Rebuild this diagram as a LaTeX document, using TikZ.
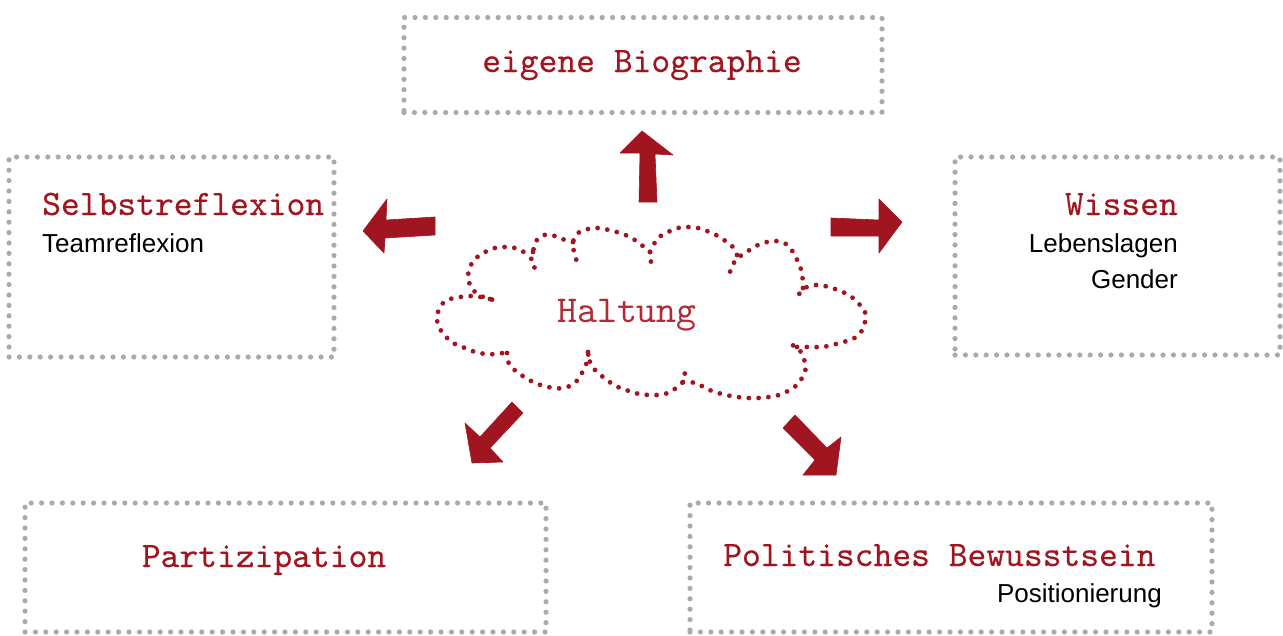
\documentclass[tikz,border=0pt]{standalone}
\usepackage{fontspec}
\setsansfont{Liberation Sans}
\newfontfamily\tw{lmmono10-regular.otf}[FakeBold=0.3]
\newfontfamily\twlight{lmmono10-regular.otf}
\definecolor{tred}{RGB}{160,21,31}
\definecolor{hred}{RGB}{178,42,52}
\definecolor{dotgray}{RGB}{170,170,170}
\tikzset{
  box/.style={draw=dotgray, line width=5.2pt, line cap=round, dash pattern=on 0pt off 10.4pt, inner sep=0pt},
  title/.style={text=tred, inner sep=0pt, font=\tw\fontsize{35.8}{40}\selectfont},
  sub/.style={text=black, inner sep=0pt, font=\sffamily\fontsize{26}{30}\selectfont},
  cloudline/.style={draw=tred, line width=4.8pt, line cap=round, dash pattern=on 0pt off 9.8pt},
  barrow/.style={fill=tred, draw=tred, line width=0.6pt, line join=round},
}
\begin{document}
\begin{tikzpicture}[x=1pt,y=-1pt]
\useasboundingbox (0,0) rectangle (1283,635);
% boxes
\node[box, minimum width=478pt, minimum height=95pt] (bio) at (643,65) {};
\node[box, minimum width=325pt, minimum height=200pt] (selbst) at (171.5,257) {};
\node[box, minimum width=325pt, minimum height=198pt] (wissen) at (1117.5,256) {};
\node[box, minimum width=521pt, minimum height=129pt] (partiz) at (285.5,567.5) {};
\node[box, minimum width=522pt, minimum height=129pt] (polit) at (951,567.5) {};
% texts
\node[title, anchor=base] (t-bio) at (642,72) {eigene Biographie};
\node[title, anchor=base west] (t-selbst) at (42,215) {Selbstreflexion};
\node[sub, anchor=base west] (s-team) at (42,252) {Teamreflexion};
\node[title, anchor=base east] (t-wissen) at (1178,215) {Wissen};
\node[sub, anchor=base east] (s-leben) at (1178,252) {Lebenslagen};
\node[sub, anchor=base east] (s-gender) at (1178,288) {Gender};
\node[title, anchor=base] (t-partiz) at (264,567) {Partizipation};
\node[title, anchor=base west] (t-polit) at (723,566) {Politisches Bewusstsein};
\node[sub, anchor=base east] (s-pos) at (1162,602) {Positionierung};
\node[text=hred, inner sep=0pt, anchor=base, font=\twlight\fontsize{38}{40}\selectfont] (halt) at (627,322) {Haltung};
% cloud
\draw[cloudline] plot[smooth, tension=0.6] coordinates {(490,299) (480,297) (470,296) (460,297) (450,299) (442,304) (437,316) (439,327) (446,337) (455,344) (465,348) (475,352) (486,354) (497,354) (507,352)};
\draw[cloudline] plot[smooth, tension=0.6] coordinates {(507,353) (509,364) (517,372) (526,378) (535,383) (544,386) (554,388) (564,388) (573,384) (580,377) (584,368) (588,360) (588,351)};
\draw[cloudline] plot[smooth, tension=0.6] coordinates {(588,352) (590,362) (595,370) (603,377) (611,383) (620,388) (629,391) (639,394) (649,395) (658,395) (668,393) (676,388) (683,382) (685,375) (683,366)};
\draw[cloudline] plot[smooth, tension=0.6] coordinates {(683,382) (696,383) (705,388) (715,392) (726,395) (737,397) (748,398) (758,398) (769,397) (779,395) (788,391) (797,385) (803,376) (806,367) (803,357) (798,348) (789,344)};
\draw[cloudline] plot[smooth, tension=0.6] coordinates {(797,347) (810,347) (822,347) (832,345) (843,342) (853,339) (861,332) (865,322) (865,312) (860,305) (853,298) (845,293) (835,289) (825,286) (816,285) (805,288) (796,298)};
\draw[cloudline] plot[smooth, tension=0.6] coordinates {(803,288) (802,273) (798,262) (793,252) (786,244) (776,241) (767,242) (758,245) (748,251) (739,257) (733,264) (730,272)};
\draw[cloudline] plot[smooth, tension=0.6] coordinates {(737,255) (732,246) (724,240) (716,235) (707,231) (698,228) (688,227) (678,228) (668,232) (659,237) (654,244) (650,252) (651,262)};
\draw[cloudline] plot[smooth, tension=0.6] coordinates {(650,252) (639,243) (630,237) (620,233) (609,230) (598,228) (588,229) (578,233) (573,242) (574,252) (577,262)};
\draw[cloudline] plot[smooth, tension=0.6] coordinates {(573,242) (565,240) (555,236) (544,235) (536,241) (533,252) (531,262) (535,268)};
\draw[cloudline] plot[smooth, tension=0.6] coordinates {(533,252) (524,252) (515,248) (506,247) (495,248) (485,252) (476,258) (470,267) (468,277) (471,287) (479,295) (490,299) (497,301)};
% block arrows
\filldraw[barrow] (639,202) -- (640,153) -- (620,153) -- (642,131) -- (673,155) -- (655,154) -- (657,202) -- cycle;
\filldraw[barrow] (435,217) -- (386,220) -- (387,199) -- (363,231) -- (384,253) -- (385,238) -- (435,235) -- cycle;
\filldraw[barrow] (831,218) -- (879,220) -- (879,199) -- (902,222) -- (879,253) -- (879,236) -- (831,236) -- cycle;
\filldraw[barrow] (512,402) -- (480,437) -- (465,423) -- (472,463) -- (503,462) -- (490,448) -- (523,413) -- cycle;
\filldraw[barrow] (783,428) -- (815,460) -- (803,475) -- (836,475) -- (841,437) -- (827,448) -- (795,415) -- cycle;
\end{tikzpicture}
\end{document}
